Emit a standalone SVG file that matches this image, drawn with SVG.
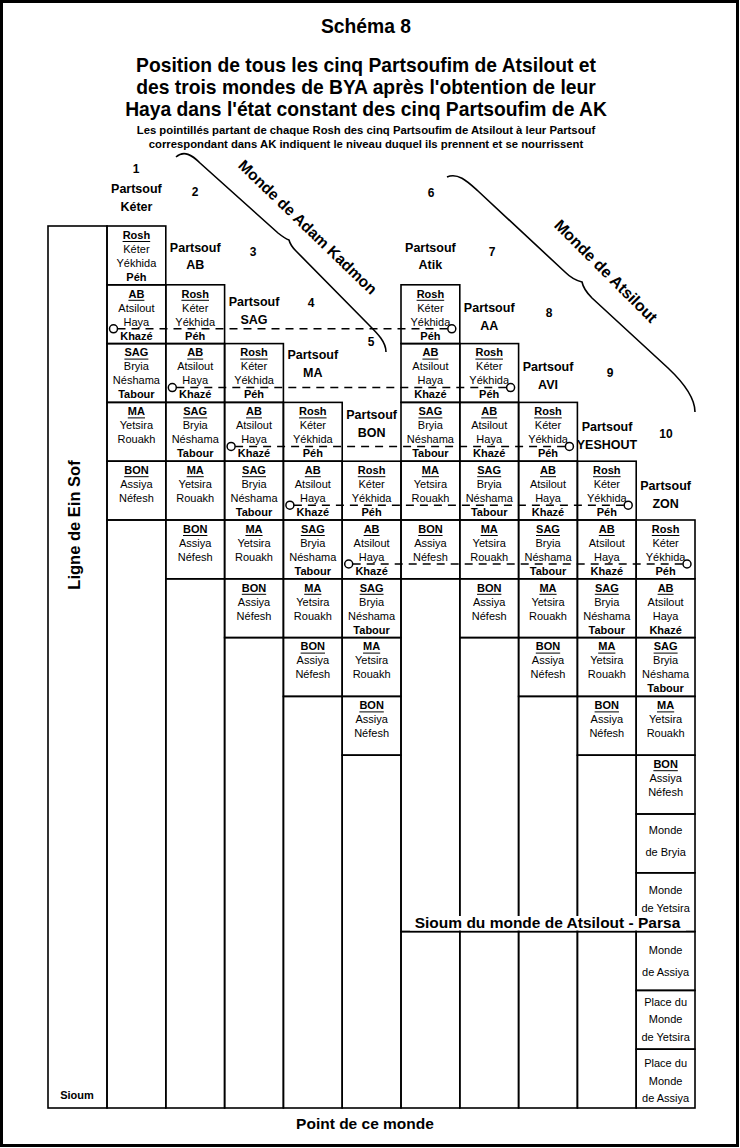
<svg xmlns="http://www.w3.org/2000/svg" width="740" height="1148" viewBox="0 0 740 1148">
<style>
text{font-family:"Liberation Sans",Arial,Helvetica,sans-serif;font-size:11px;text-anchor:middle;fill:#000}
.b{font-weight:bold}
.c{fill:none;stroke:#000;stroke-width:1.6}
.u{stroke:#000;stroke-width:1}
.t1{font-weight:bold;font-size:19.3px}
.t2{font-weight:bold;font-size:11.3px}
.pl{font-weight:bold;font-size:12.5px}
.n{font-weight:bold;font-size:12px}
.mw{font-weight:bold;font-size:15.5px}
.d{fill:none;stroke:#000;stroke-width:1.5;stroke-dasharray:8 6}
.o{fill:#fff;stroke:#000;stroke-width:1.5}
.br{fill:none;stroke:#000;stroke-width:1.6}
</style>
<rect x="0" y="0" width="740" height="1148" fill="#fff"/>
<rect x="1.5" y="1.5" width="736" height="1144" fill="none" stroke="#000" stroke-width="3"/>

<g id="titles">
<text class="t1" x="366" y="33">Schéma 8</text>
<text class="t1" x="366" y="72">Position de tous les cinq Partsoufim de Atsilout et</text>
<text class="t1" x="366" y="94">des trois mondes de BYA après l'obtention de leur</text>
<text class="t1" x="366" y="116">Haya dans l'état constant des cinq Partsoufim de AK</text>
<text class="t2" x="366" y="134">Les pointillés partant de chaque Rosh des cinq Partsoufim de Atsilout à leur Partsouf</text>
<text class="t2" x="366" y="148">correspondant dans AK indiquent le niveau duquel ils prennent et se nourrissent</text>
</g>

<g id="ligne-ein-sof">
<rect class="c" x="48" y="226" width="59" height="882"/>
<text class="mw" style="font-size:16.5px" transform="translate(80,525) rotate(-90)">Ligne de Ein Sof</text>
<text class="b" x="77" y="1099">Sioum</text>
</g>

<g id="labels">
<text class="n" x="136" y="173">1</text>
<text class="n" x="195" y="196">2</text>
<text class="n" x="253" y="256">3</text>
<text class="n" x="311" y="307">4</text>
<text class="n" x="371" y="346">5</text>
<text class="n" x="431" y="197">6</text>
<text class="n" x="492" y="256">7</text>
<text class="n" x="549" y="317">8</text>
<text class="n" x="610" y="377">9</text>
<text class="n" x="666" y="438">10</text>
<text class="pl" x="136.4" y="193">Partsouf</text><text class="pl" x="136.4" y="211">Kéter</text>
<text class="pl" x="195.2" y="252">Partsouf</text><text class="pl" x="195.2" y="269">AB</text>
<text class="pl" x="254" y="306">Partsouf</text><text class="pl" x="254" y="324">SAG</text>
<text class="pl" x="312.8" y="359">Partsouf</text><text class="pl" x="312.8" y="377">MA</text>
<text class="pl" x="371.6" y="419">Partsouf</text><text class="pl" x="371.6" y="437">BON</text>
<text class="pl" x="430.4" y="252">Partsouf</text><text class="pl" x="430.4" y="269">Atik</text>
<text class="pl" x="489.2" y="312">Partsouf</text><text class="pl" x="489.2" y="330">AA</text>
<text class="pl" x="548" y="371">Partsouf</text><text class="pl" x="548" y="389">AVI</text>
<text class="pl" x="607" y="431">Partsouf</text><text class="pl" x="607" y="449">YESHOUT</text>
<text class="pl" x="665.6" y="490">Partsouf</text><text class="pl" x="665.6" y="508">ZON</text>
</g>

<g id="braces">
<path class="br" d="M176,157 C184,150 192,155 200,163 L278,233 C283,237 286,239 289,240 C290,244 292,247 296,251 L368,324 C378,334 386,342 386,352"/>
<text class="mw" transform="translate(304,231) rotate(44)">Monde de Adam Kadmon</text>
<path class="br" d="M447,177 C458,172 468,182 478,191 L565,272 C572,279 578,281 582,282 C583,287 586,292 592,298 L668,368 C685,384 695,398 695,412"/>
<text class="mw" style="font-size:16px" transform="translate(602,275) rotate(45)">Monde de Atsilout</text>
</g>

<!-- AK Partsouf Keter -->
<g id="ak-keter">
<g id="ak-keter-rosh" transform="translate(136.4,226)"><rect class="c" x="-29.4" width="58.8" height="58.8"/><text class="b" y="12.8">Rosh</text><path class="u" d="M-13.8 15.5h27.6"/><text y="26.8">Kéter</text><text y="40.8">Yékhida</text><text class="b" y="54.8">Péh</text></g>
<g id="ak-keter-ab" transform="translate(136.4,284.8)"><rect class="c" x="-29.4" width="58.8" height="58.8"/><text class="b" y="12.8">AB</text><path class="u" d="M-8 15.5h16"/><text y="26.8">Atsilout</text><text y="40.8">Haya</text><text class="b" y="54.8">Khazé</text></g>
<g id="ak-keter-sag" transform="translate(136.4,343.6)"><rect class="c" x="-29.4" width="58.8" height="58.8"/><text class="b" y="12.8">SAG</text><path class="u" d="M-12 15.5h24"/><text y="26.8">Bryia</text><text y="40.8">Néshama</text><text class="b" y="54.8">Tabour</text></g>
<g id="ak-keter-ma" transform="translate(136.4,402.4)"><rect class="c" x="-29.4" width="58.8" height="58.8"/><text class="b" y="12.8">MA</text><path class="u" d="M-8.6 15.5h17.2"/><text y="26.8">Yetsira</text><text y="40.8">Rouakh</text></g>
<g id="ak-keter-bon" transform="translate(136.4,461.2)"><rect class="c" x="-29.4" width="58.8" height="58.8"/><text class="b" y="12.8">BON</text><path class="u" d="M-12.2 15.5h24.4"/><text y="26.8">Assiya</text><text y="40.8">Néfesh</text></g>
<rect class="c" x="107" y="520" width="58.8" height="588"/>
</g>

<!-- AK Partsouf AB -->
<g id="ak-ab">
<g id="ak-ab-rosh" transform="translate(195.2,284.8)"><rect class="c" x="-29.4" width="58.8" height="58.8"/><text class="b" y="12.8">Rosh</text><path class="u" d="M-13.8 15.5h27.6"/><text y="26.8">Kéter</text><text y="40.8">Yékhida</text><text class="b" y="54.8">Péh</text></g>
<g id="ak-ab-ab" transform="translate(195.2,343.6)"><rect class="c" x="-29.4" width="58.8" height="58.8"/><text class="b" y="12.8">AB</text><path class="u" d="M-8 15.5h16"/><text y="26.8">Atsilout</text><text y="40.8">Haya</text><text class="b" y="54.8">Khazé</text></g>
<g id="ak-ab-sag" transform="translate(195.2,402.4)"><rect class="c" x="-29.4" width="58.8" height="58.8"/><text class="b" y="12.8">SAG</text><path class="u" d="M-12 15.5h24"/><text y="26.8">Bryia</text><text y="40.8">Néshama</text><text class="b" y="54.8">Tabour</text></g>
<g id="ak-ab-ma" transform="translate(195.2,461.2)"><rect class="c" x="-29.4" width="58.8" height="58.8"/><text class="b" y="12.8">MA</text><path class="u" d="M-8.6 15.5h17.2"/><text y="26.8">Yetsira</text><text y="40.8">Rouakh</text></g>
<g id="ak-ab-bon" transform="translate(195.2,520)"><rect class="c" x="-29.4" width="58.8" height="58.8"/><text class="b" y="12.8">BON</text><path class="u" d="M-12.2 15.5h24.4"/><text y="26.8">Assiya</text><text y="40.8">Néfesh</text></g>
<rect class="c" x="165.8" y="578.8" width="58.8" height="529.2"/>
</g>

<!-- AK Partsouf SAG -->
<g id="ak-sag">
<g id="ak-sag-rosh" transform="translate(254,343.6)"><rect class="c" x="-29.4" width="58.8" height="58.8"/><text class="b" y="12.8">Rosh</text><path class="u" d="M-13.8 15.5h27.6"/><text y="26.8">Kéter</text><text y="40.8">Yékhida</text><text class="b" y="54.8">Péh</text></g>
<g id="ak-sag-ab" transform="translate(254,402.4)"><rect class="c" x="-29.4" width="58.8" height="58.8"/><text class="b" y="12.8">AB</text><path class="u" d="M-8 15.5h16"/><text y="26.8">Atsilout</text><text y="40.8">Haya</text><text class="b" y="54.8">Khazé</text></g>
<g id="ak-sag-sag" transform="translate(254,461.2)"><rect class="c" x="-29.4" width="58.8" height="58.8"/><text class="b" y="12.8">SAG</text><path class="u" d="M-12 15.5h24"/><text y="26.8">Bryia</text><text y="40.8">Néshama</text><text class="b" y="54.8">Tabour</text></g>
<g id="ak-sag-ma" transform="translate(254,520)"><rect class="c" x="-29.4" width="58.8" height="58.8"/><text class="b" y="12.8">MA</text><path class="u" d="M-8.6 15.5h17.2"/><text y="26.8">Yetsira</text><text y="40.8">Rouakh</text></g>
<g id="ak-sag-bon" transform="translate(254,578.8)"><rect class="c" x="-29.4" width="58.8" height="58.8"/><text class="b" y="12.8">BON</text><path class="u" d="M-12.2 15.5h24.4"/><text y="26.8">Assiya</text><text y="40.8">Néfesh</text></g>
<rect class="c" x="224.6" y="637.6" width="58.8" height="470.4"/>
</g>

<!-- AK Partsouf MA -->
<g id="ak-ma">
<g id="ak-ma-rosh" transform="translate(312.8,402.4)"><rect class="c" x="-29.4" width="58.8" height="58.8"/><text class="b" y="12.8">Rosh</text><path class="u" d="M-13.8 15.5h27.6"/><text y="26.8">Kéter</text><text y="40.8">Yékhida</text><text class="b" y="54.8">Péh</text></g>
<g id="ak-ma-ab" transform="translate(312.8,461.2)"><rect class="c" x="-29.4" width="58.8" height="58.8"/><text class="b" y="12.8">AB</text><path class="u" d="M-8 15.5h16"/><text y="26.8">Atsilout</text><text y="40.8">Haya</text><text class="b" y="54.8">Khazé</text></g>
<g id="ak-ma-sag" transform="translate(312.8,520)"><rect class="c" x="-29.4" width="58.8" height="58.8"/><text class="b" y="12.8">SAG</text><path class="u" d="M-12 15.5h24"/><text y="26.8">Bryia</text><text y="40.8">Néshama</text><text class="b" y="54.8">Tabour</text></g>
<g id="ak-ma-ma" transform="translate(312.8,578.8)"><rect class="c" x="-29.4" width="58.8" height="58.8"/><text class="b" y="12.8">MA</text><path class="u" d="M-8.6 15.5h17.2"/><text y="26.8">Yetsira</text><text y="40.8">Rouakh</text></g>
<g id="ak-ma-bon" transform="translate(312.8,637.6)"><rect class="c" x="-29.4" width="58.8" height="58.8"/><text class="b" y="12.8">BON</text><path class="u" d="M-12.2 15.5h24.4"/><text y="26.8">Assiya</text><text y="40.8">Néfesh</text></g>
<rect class="c" x="283.4" y="696.4" width="58.8" height="411.6"/>
</g>

<!-- AK Partsouf BON -->
<g id="ak-bon">
<g id="ak-bon-rosh" transform="translate(371.6,461.2)"><rect class="c" x="-29.4" width="58.8" height="58.8"/><text class="b" y="12.8">Rosh</text><path class="u" d="M-13.8 15.5h27.6"/><text y="26.8">Kéter</text><text y="40.8">Yékhida</text><text class="b" y="54.8">Péh</text></g>
<g id="ak-bon-ab" transform="translate(371.6,520)"><rect class="c" x="-29.4" width="58.8" height="58.8"/><text class="b" y="12.8">AB</text><path class="u" d="M-8 15.5h16"/><text y="26.8">Atsilout</text><text y="40.8">Haya</text><text class="b" y="54.8">Khazé</text></g>
<g id="ak-bon-sag" transform="translate(371.6,578.8)"><rect class="c" x="-29.4" width="58.8" height="58.8"/><text class="b" y="12.8">SAG</text><path class="u" d="M-12 15.5h24"/><text y="26.8">Bryia</text><text y="40.8">Néshama</text><text class="b" y="54.8">Tabour</text></g>
<g id="ak-bon-ma" transform="translate(371.6,637.6)"><rect class="c" x="-29.4" width="58.8" height="58.8"/><text class="b" y="12.8">MA</text><path class="u" d="M-8.6 15.5h17.2"/><text y="26.8">Yetsira</text><text y="40.8">Rouakh</text></g>
<g id="ak-bon-bon" transform="translate(371.6,696.4)"><rect class="c" x="-29.4" width="58.8" height="58.8"/><text class="b" y="12.8">BON</text><path class="u" d="M-12.2 15.5h24.4"/><text y="26.8">Assiya</text><text y="40.8">Néfesh</text></g>
<rect class="c" x="342.2" y="755.2" width="58.8" height="352.8"/>
</g>

<!-- Atsilout Atik -->
<g id="atz-atik">
<g id="atz-atik-rosh" transform="translate(430.4,284.8)"><rect class="c" x="-29.4" width="58.8" height="58.8"/><text class="b" y="12.8">Rosh</text><path class="u" d="M-13.8 15.5h27.6"/><text y="26.8">Kéter</text><text y="40.8">Yékhida</text><text class="b" y="54.8">Péh</text></g>
<g id="atz-atik-ab" transform="translate(430.4,343.6)"><rect class="c" x="-29.4" width="58.8" height="58.8"/><text class="b" y="12.8">AB</text><path class="u" d="M-8 15.5h16"/><text y="26.8">Atsilout</text><text y="40.8">Haya</text><text class="b" y="54.8">Khazé</text></g>
<g id="atz-atik-sag" transform="translate(430.4,402.4)"><rect class="c" x="-29.4" width="58.8" height="58.8"/><text class="b" y="12.8">SAG</text><path class="u" d="M-12 15.5h24"/><text y="26.8">Bryia</text><text y="40.8">Néshama</text><text class="b" y="54.8">Tabour</text></g>
<g id="atz-atik-ma" transform="translate(430.4,461.2)"><rect class="c" x="-29.4" width="58.8" height="58.8"/><text class="b" y="12.8">MA</text><path class="u" d="M-8.6 15.5h17.2"/><text y="26.8">Yetsira</text><text y="40.8">Rouakh</text></g>
<g id="atz-atik-bon" transform="translate(430.4,520)"><rect class="c" x="-29.4" width="58.8" height="58.8"/><text class="b" y="12.8">BON</text><path class="u" d="M-12.2 15.5h24.4"/><text y="26.8">Assiya</text><text y="40.8">Néfesh</text></g>
<rect class="c" x="401" y="578.8" width="58.8" height="352.8"/>
<rect class="c" x="401" y="931.6" width="58.8" height="176.4"/>
</g>

<!-- Atsilout AA -->
<g id="atz-aa">
<g id="atz-aa-rosh" transform="translate(489.2,343.6)"><rect class="c" x="-29.4" width="58.8" height="58.8"/><text class="b" y="12.8">Rosh</text><path class="u" d="M-13.8 15.5h27.6"/><text y="26.8">Kéter</text><text y="40.8">Yékhida</text><text class="b" y="54.8">Péh</text></g>
<g id="atz-aa-ab" transform="translate(489.2,402.4)"><rect class="c" x="-29.4" width="58.8" height="58.8"/><text class="b" y="12.8">AB</text><path class="u" d="M-8 15.5h16"/><text y="26.8">Atsilout</text><text y="40.8">Haya</text><text class="b" y="54.8">Khazé</text></g>
<g id="atz-aa-sag" transform="translate(489.2,461.2)"><rect class="c" x="-29.4" width="58.8" height="58.8"/><text class="b" y="12.8">SAG</text><path class="u" d="M-12 15.5h24"/><text y="26.8">Bryia</text><text y="40.8">Néshama</text><text class="b" y="54.8">Tabour</text></g>
<g id="atz-aa-ma" transform="translate(489.2,520)"><rect class="c" x="-29.4" width="58.8" height="58.8"/><text class="b" y="12.8">MA</text><path class="u" d="M-8.6 15.5h17.2"/><text y="26.8">Yetsira</text><text y="40.8">Rouakh</text></g>
<g id="atz-aa-bon" transform="translate(489.2,578.8)"><rect class="c" x="-29.4" width="58.8" height="58.8"/><text class="b" y="12.8">BON</text><path class="u" d="M-12.2 15.5h24.4"/><text y="26.8">Assiya</text><text y="40.8">Néfesh</text></g>
<rect class="c" x="459.8" y="637.6" width="58.8" height="294"/>
<rect class="c" x="459.8" y="931.6" width="58.8" height="176.4"/>
</g>

<!-- Atsilout AVI -->
<g id="atz-avi">
<g id="atz-avi-rosh" transform="translate(548,402.4)"><rect class="c" x="-29.4" width="58.8" height="58.8"/><text class="b" y="12.8">Rosh</text><path class="u" d="M-13.8 15.5h27.6"/><text y="26.8">Kéter</text><text y="40.8">Yékhida</text><text class="b" y="54.8">Péh</text></g>
<g id="atz-avi-ab" transform="translate(548,461.2)"><rect class="c" x="-29.4" width="58.8" height="58.8"/><text class="b" y="12.8">AB</text><path class="u" d="M-8 15.5h16"/><text y="26.8">Atsilout</text><text y="40.8">Haya</text><text class="b" y="54.8">Khazé</text></g>
<g id="atz-avi-sag" transform="translate(548,520)"><rect class="c" x="-29.4" width="58.8" height="58.8"/><text class="b" y="12.8">SAG</text><path class="u" d="M-12 15.5h24"/><text y="26.8">Bryia</text><text y="40.8">Néshama</text><text class="b" y="54.8">Tabour</text></g>
<g id="atz-avi-ma" transform="translate(548,578.8)"><rect class="c" x="-29.4" width="58.8" height="58.8"/><text class="b" y="12.8">MA</text><path class="u" d="M-8.6 15.5h17.2"/><text y="26.8">Yetsira</text><text y="40.8">Rouakh</text></g>
<g id="atz-avi-bon" transform="translate(548,637.6)"><rect class="c" x="-29.4" width="58.8" height="58.8"/><text class="b" y="12.8">BON</text><path class="u" d="M-12.2 15.5h24.4"/><text y="26.8">Assiya</text><text y="40.8">Néfesh</text></g>
<rect class="c" x="518.6" y="696.4" width="58.8" height="235.2"/>
<rect class="c" x="518.6" y="931.6" width="58.8" height="176.4"/>
</g>

<!-- Atsilout YESHOUT -->
<g id="atz-yeshout">
<g id="atz-yeshout-rosh" transform="translate(606.8,461.2)"><rect class="c" x="-29.4" width="58.8" height="58.8"/><text class="b" y="12.8">Rosh</text><path class="u" d="M-13.8 15.5h27.6"/><text y="26.8">Kéter</text><text y="40.8">Yékhida</text><text class="b" y="54.8">Péh</text></g>
<g id="atz-yeshout-ab" transform="translate(606.8,520)"><rect class="c" x="-29.4" width="58.8" height="58.8"/><text class="b" y="12.8">AB</text><path class="u" d="M-8 15.5h16"/><text y="26.8">Atsilout</text><text y="40.8">Haya</text><text class="b" y="54.8">Khazé</text></g>
<g id="atz-yeshout-sag" transform="translate(606.8,578.8)"><rect class="c" x="-29.4" width="58.8" height="58.8"/><text class="b" y="12.8">SAG</text><path class="u" d="M-12 15.5h24"/><text y="26.8">Bryia</text><text y="40.8">Néshama</text><text class="b" y="54.8">Tabour</text></g>
<g id="atz-yeshout-ma" transform="translate(606.8,637.6)"><rect class="c" x="-29.4" width="58.8" height="58.8"/><text class="b" y="12.8">MA</text><path class="u" d="M-8.6 15.5h17.2"/><text y="26.8">Yetsira</text><text y="40.8">Rouakh</text></g>
<g id="atz-yeshout-bon" transform="translate(606.8,696.4)"><rect class="c" x="-29.4" width="58.8" height="58.8"/><text class="b" y="12.8">BON</text><path class="u" d="M-12.2 15.5h24.4"/><text y="26.8">Assiya</text><text y="40.8">Néfesh</text></g>
<rect class="c" x="577.4" y="755.2" width="58.8" height="176.4"/>
<rect class="c" x="577.4" y="931.6" width="58.8" height="176.4"/>
</g>

<!-- Atsilout ZON -->
<g id="atz-zon">
<g id="atz-zon-rosh" transform="translate(665.6,520)"><rect class="c" x="-29.4" width="58.8" height="58.8"/><text class="b" y="12.8">Rosh</text><path class="u" d="M-13.8 15.5h27.6"/><text y="26.8">Kéter</text><text y="40.8">Yékhida</text><text class="b" y="54.8">Péh</text></g>
<g id="atz-zon-ab" transform="translate(665.6,578.8)"><rect class="c" x="-29.4" width="58.8" height="58.8"/><text class="b" y="12.8">AB</text><path class="u" d="M-8 15.5h16"/><text y="26.8">Atsilout</text><text y="40.8">Haya</text><text class="b" y="54.8">Khazé</text></g>
<g id="atz-zon-sag" transform="translate(665.6,637.6)"><rect class="c" x="-29.4" width="58.8" height="58.8"/><text class="b" y="12.8">SAG</text><path class="u" d="M-12 15.5h24"/><text y="26.8">Bryia</text><text y="40.8">Néshama</text><text class="b" y="54.8">Tabour</text></g>
<g id="atz-zon-ma" transform="translate(665.6,696.4)"><rect class="c" x="-29.4" width="58.8" height="58.8"/><text class="b" y="12.8">MA</text><path class="u" d="M-8.6 15.5h17.2"/><text y="26.8">Yetsira</text><text y="40.8">Rouakh</text></g>
<g id="atz-zon-bon" transform="translate(665.6,755.2)"><rect class="c" x="-29.4" width="58.8" height="58.8"/><text class="b" y="12.8">BON</text><path class="u" d="M-12.2 15.5h24.4"/><text y="26.8">Assiya</text><text y="40.8">Néfesh</text></g>
<g id="monde-bryia" transform="translate(665.6,814)"><rect class="c" x="-29.4" width="58.8" height="58.8"/><text y="20">Monde</text><text y="42">de Bryia</text></g>
<g id="monde-yetsira" transform="translate(665.6,872.8)"><rect class="c" x="-29.4" width="58.8" height="58.8"/><text y="21">Monde</text><text y="39">de Yetsira</text></g>
<g id="monde-assiya" transform="translate(665.6,931.6)"><rect class="c" x="-29.4" width="58.8" height="58.8"/><text y="22">Monde</text><text y="44">de Assiya</text></g>
<g id="place-yetsira" transform="translate(665.6,990.4)"><rect class="c" x="-29.4" width="58.8" height="58.8"/><text y="16">Place du</text><text y="33">Monde</text><text y="51">de Yetsira</text></g>
<g id="place-assiya" transform="translate(665.6,1049.2)"><rect class="c" x="-29.4" width="58.8" height="58.8"/><text y="18">Place du</text><text y="36">Monde</text><text y="53">de Assiya</text></g>
</g>

<g id="parsa">
<rect x="410" y="916" width="276" height="14.5" fill="#fff"/>
<text class="mw" x="547.5" y="928">Sioum du monde de Atsilout - Parsa</text>
</g>

<g id="connectors">
<path class="d" d="M117.5 328.8H447.8"/>
<circle class="o" cx="113.5" cy="328.8" r="4"/><circle class="o" cx="451.8" cy="328.8" r="4"/>
<path class="d" d="M176.3 387.6H506.6"/>
<circle class="o" cx="172.3" cy="387.6" r="4"/><circle class="o" cx="510.6" cy="387.6" r="4"/>
<path class="d" d="M235.1 446.4H565.4"/>
<circle class="o" cx="231.1" cy="446.4" r="4"/><circle class="o" cx="569.4" cy="446.4" r="4"/>
<path class="d" d="M293.9 505.2H624.2"/>
<circle class="o" cx="289.9" cy="505.2" r="4"/><circle class="o" cx="628.2" cy="505.2" r="4"/>
<path class="d" d="M352.7 564H683"/>
<circle class="o" cx="348.7" cy="564" r="4"/><circle class="o" cx="687" cy="564" r="4"/>
</g>

<text class="mw" x="365" y="1129">Point de ce monde</text>
</svg>
